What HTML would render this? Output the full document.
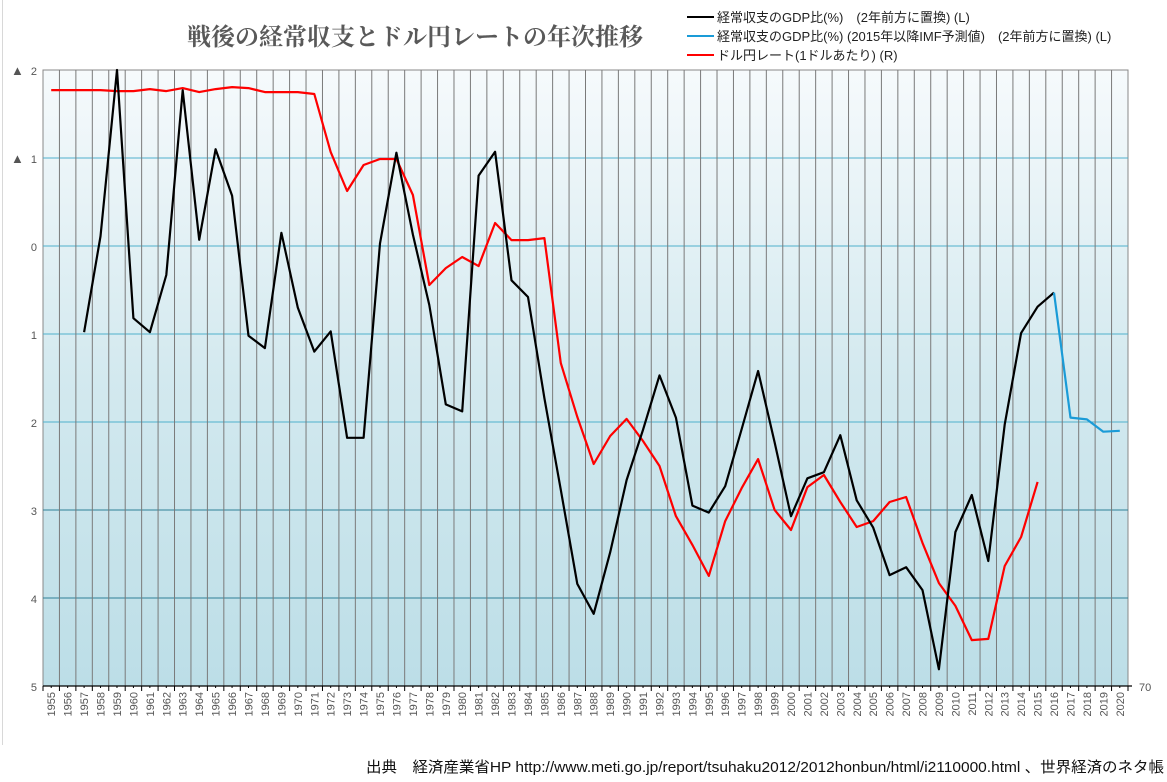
<!DOCTYPE html>
<html><head><meta charset="utf-8">
<style>
html,body{margin:0;padding:0;background:#fff;}
body{width:1167px;height:777px;overflow:hidden;position:relative;font-family:"Liberation Sans","Noto Sans CJK JP",sans-serif;}
svg text{font-family:"Liberation Sans","Noto Sans CJK JP",sans-serif;}
</style></head>
<body>
<svg id="chart" width="1167" height="777" xmlns="http://www.w3.org/2000/svg">
<defs>
<linearGradient id="bg" x1="0" y1="0" x2="0" y2="1">
<stop offset="0" stop-color="#f6fafc"/>
<stop offset="0.5" stop-color="#d3e9ef"/>
<stop offset="1" stop-color="#bcdee7"/>
</linearGradient>
</defs>
<line x1="2.5" y1="0" x2="2.5" y2="745" stroke="#d8d8d8" stroke-width="1"/>
<rect x="43" y="70" width="1085" height="616" fill="url(#bg)" stroke="#888"/>
<g id="grid"></g>
<g id="axes"></g>
<g id="series"></g>
<text x="415" y="45" text-anchor="middle" font-size="24" font-weight="bold" fill="#595959" style="font-family:'Liberation Serif','Noto Serif CJK SC',serif">戦後の経常収支とドル円レートの年次推移</text>
<g font-size="13" fill="#222">
<g><line x1="687" y1="17" x2="714" y2="17" stroke="#000" stroke-width="2"/><text x="717" y="22">経常収支のGDP比(%)　(2年前方に置換) (L)</text></g>
<g><line x1="687" y1="36" x2="714" y2="36" stroke="#1a9bd7" stroke-width="2"/><text x="717" y="41">経常収支のGDP比(%) (2015年以降IMF予測値)　(2年前方に置換) (L)</text></g>
<g><line x1="687" y1="55" x2="714" y2="55" stroke="#f00" stroke-width="2"/><text x="717" y="60">ドル円レート(1ドルあたり) (R)</text></g>
</g>
<text x="366" y="772" textLength="798" lengthAdjust="spacingAndGlyphs" font-size="15" fill="#111">出典　経済産業省HP http://www.meti.go.jp/report/tsuhaku2012/2012honbun/html/i2110000.html 、世界経済のネタ帳</text>
</svg>
<script>
const years = [];
for (let y = 1955; y <= 2020; y++) years.push(y);
const leftTicks = [-2,-1,0,1,2,3,4,5];
const leftTickLabels = ["2","1","0","1","2","3","4","5"];
const rightTickLabels = ["70"];
const caYears = [1957,1958,1959,1960,1961,1962,1963,1964,1965,1966,1967,1968,1969,1970,1971,1972,1973,1974,1975,1976,1977,1978,1979,1980,1981,1982,1983,1984,1985,1986,1987,1988,1989,1990,1991,1992,1993,1994,1995,1996,1997,1998,1999,2000,2001,2002,2003,2004,2005,2006,2007,2008,2009,2010,2011,2012,2013,2014,2015,2016];
const caValues = [0.98,-0.11,-2.0,0.82,0.98,0.33,-1.77,-0.07,-1.10,-0.57,1.02,1.16,-0.15,0.70,1.20,0.97,2.18,2.18,-0.03,-1.06,-0.13,0.67,1.80,1.88,-0.80,-1.07,0.39,0.58,1.73,2.77,3.84,4.18,3.48,2.66,2.09,1.47,1.95,2.95,3.03,2.73,2.08,1.42,2.23,3.07,2.64,2.57,2.15,2.89,3.20,3.74,3.65,3.91,4.81,3.25,2.83,3.58,2.03,0.99,0.69,0.53];
const imfYears = [2016,2017,2018,2019,2020];
const imfValues = [0.53,1.95,1.97,2.11,2.10];
const fxYears = [];
for (let y = 1955; y <= 2015; y++) fxYears.push(y);
const fxValues = [369.9,369.9,369.9,369.9,369.4,369.4,370.4,369.4,370.9,368.9,370.4,371.4,370.9,368.9,368.9,368.9,367.9,338.7,319.1,332.2,335.2,335.2,317.1,271.8,280.3,285.9,281.3,303.0,294.4,294.4,295.4,232.5,205.4,181.7,195.8,204.4,193.3,180.7,155.5,141.0,125.4,153.0,169.6,184.2,158.6,148.5,170.1,176.2,162.6,150.0,153.0,162.6,165.1,142.0,121.8,110.3,93.1,93.7,130.4,145.0,172.7];

const NS = "http://www.w3.org/2000/svg";
const X0 = 43, X1 = 1128, Y0 = 70, Y1 = 686;
const bw = (X1 - X0) / years.length;
function xc(year){ return X0 + bw * (years.indexOf(year) + 0.5); }
function yL(v){ return Y0 + (v - (-2)) / 7 * (Y1 - Y0); }
function yR(v){ return Y1 - (v - 70) / 310 * (Y1 - Y0); }
function mk(tag, attrs, parent){ const e = document.createElementNS(NS, tag); for (const k in attrs) e.setAttribute(k, attrs[k]); parent.appendChild(e); return e; }

const grid = document.getElementById('grid');
const axes = document.getElementById('axes');
const series = document.getElementById('series');

leftTicks.forEach((t, i) => {
  const y = yL(t);
  if (t > -2 && t < 5) {
    const l = mk('line', {x1:X0, x2:X1, y1:y, y2:y, stroke: t >= 3 ? '#2f7f96' : '#4fb0cc', 'stroke-width':1}, grid);
    
    
  }
  const tx = mk('text', {x:37, y:y+5, 'text-anchor':'end', 'font-size':11, fill:'#555'}, axes);
  tx.textContent = leftTickLabels[i];
  
  
  if (t < 0) {
    const tri = mk('text', {x:11, y:y+5, 'font-size':13, fill:'#555'}, axes);
    tri.textContent = '▲';
    
    
  }
});
for (let i = 1; i < years.length; i++) {
  const x = X0 + bw * i;
  const l = mk('line', {x1:x, x2:x, y1:Y0, y2:Y1, stroke:'#7a7a7a', 'stroke-width':1}, grid);
  
  
}
mk('line', {x1:X0, x2:X1+4, y1:Y1, y2:Y1, stroke:'#000', 'stroke-width':1.3}, axes);
for (let i = 0; i <= years.length; i++) {
  const x = X0 + bw * i;
  mk('line', {x1:x, x2:x, y1:Y1, y2:Y1+5, stroke:'#000', 'stroke-width':1}, axes);
  if (i < years.length) {
    mk('line', {x1:x+bw/2, x2:x+bw/2, y1:Y1, y2:Y1+2, stroke:'#000', 'stroke-width':1}, axes);
  }
}
years.forEach(yr => {
  const x = xc(yr);
  const t = mk('text', {x:0, y:0, 'font-size':11, fill:'#555', 'text-anchor':'end', transform:`translate(${x+4},${Y1+6}) rotate(-90)`}, axes);
  t.textContent = yr;
  
  
});
const rt = mk('text', {x:1139, y:Y1+5, 'font-size':11, fill:'#555'}, axes);
rt.textContent = rightTickLabels[0];



function line(xsArr, vals, yf, color, name){
  const pts = vals.map((v, i) => xc(xsArr[i]).toFixed(1) + ',' + yf(v).toFixed(1)).join(' ');
  const p = mk('polyline', {points:pts, fill:'none', stroke:color, 'stroke-width':2.2, 'stroke-linejoin':'round'}, series);
  
  
}
line(fxYears, fxValues, yR, '#ff0000', 'usdjpy-line');
line(caYears, caValues, yL, '#000000', 'current-account-line');
line(imfYears, imfValues, yL, '#1a9bd7', 'imf-forecast-line');
</script>
</body></html>
